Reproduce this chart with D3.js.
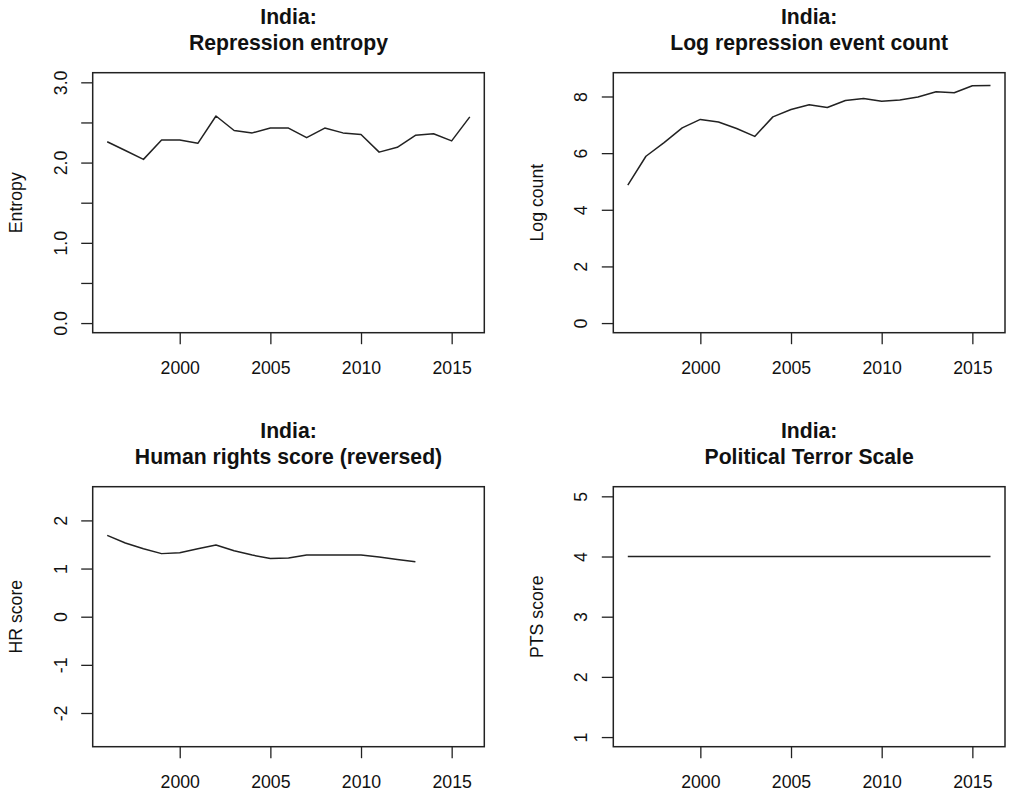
<!DOCTYPE html>
<html>
<head>
<meta charset="utf-8">
<script src="https://cdn.jsdelivr.net/npm/d3@7"></script>
<style>
  html, body { margin: 0; padding: 0; background: #fff; }
  svg { display: block; }
  text { font-family: "Liberation Sans", Arial, Helvetica, sans-serif; fill: #111; }
</style>
</head>
<body>
<svg id="chart" width="1009" height="799"></svg>
<script>
// ---------- data ----------
const country = "India";

const years = [1996,1997,1998,1999,2000,2001,2002,2003,2004,2005,2006,2007,2008,2009,2010,2011,2012,2013,2014,2015,2016];

const entropyValues = [2.26,2.15,2.04,2.28,2.28,2.24,2.58,2.40,2.37,2.43,2.43,2.31,2.43,2.37,2.35,2.13,2.19,2.34,2.36,2.27,2.57];

const logCountValues = [4.87,5.89,6.37,6.89,7.19,7.10,6.87,6.59,7.28,7.54,7.71,7.61,7.86,7.93,7.83,7.88,7.98,8.17,8.13,8.38,8.39];

const hrYears = [1996,1997,1998,1999,2000,2001,2002,2003,2004,2005,2006,2007,2008,2009,2010,2011,2012,2013];
const hrValues = [1.69,1.53,1.41,1.31,1.33,1.41,1.49,1.37,1.28,1.21,1.22,1.28,1.28,1.28,1.28,1.24,1.19,1.14];

const ptsValues = [4,4,4,4,4,4,4,4,4,4,4,4,4,4,4,4,4,4,4,4,4];

const xLimits = [1996, 2016];
const xTicks = [2000, 2005, 2010, 2015];

const entropyLimits = [0, 3];
const entropyTicks = [0, 0.5, 1, 1.5, 2, 2.5, 3];
const entropyTickLabels = ["0.0", "", "1.0", "", "2.0", "", "3.0"];

const logCountLimits = [0, 8.5];
const logCountTicks = [0, 2, 4, 6, 8];
const logCountTickLabels = ["0", "2", "4", "6", "8"];

const hrLimits = [-2.5, 2.5];
const hrTicks = [-2, -1, 0, 1, 2];
const hrTickLabels = ["-2", "-1", "0", "1", "2"];

const ptsLimits = [1, 5];
const ptsTicks = [1, 2, 3, 4, 5];
const ptsTickLabels = ["1", "2", "3", "4", "5"];

const panelTitles = ["Repression entropy", "Log repression event count", "Human rights score (reversed)", "Political Terror Scale"];
const yLabels = ["Entropy", "Log count", "HR score", "PTS score"];

// ---------- layout ----------
const colLeft = [92.7, 613.3];
const colRight = [484.3, 1005];
const rowTop = [72.7, 486.7];
const rowBottom = [332.7, 746.7];

const panels = [
  { col: 0, row: 0, title: panelTitles[0], ylab: yLabels[0], xs: years, ys: entropyValues, lim: entropyLimits, ticks: entropyTicks, labels: entropyTickLabels },
  { col: 1, row: 0, title: panelTitles[1], ylab: yLabels[1], xs: years, ys: logCountValues, lim: logCountLimits, ticks: logCountTicks, labels: logCountTickLabels },
  { col: 0, row: 1, title: panelTitles[2], ylab: yLabels[2], xs: hrYears, ys: hrValues, lim: hrLimits, ticks: hrTicks, labels: hrTickLabels },
  { col: 1, row: 1, title: panelTitles[3], ylab: yLabels[3], xs: years, ys: ptsValues, lim: ptsLimits, ticks: ptsTicks, labels: ptsTickLabels }
];

const svg = d3.select("#chart");
const ink = "#222";
const axisFont = 17.7;
const titleFont = 21.2;
const tickLen = 11.5;

function padded(lim) {
  const d = (lim[1] - lim[0]) * 0.04;
  return [lim[0] - d, lim[1] + d];
}

panels.forEach(p => {
  const L = colLeft[p.col], R = colRight[p.col], T = rowTop[p.row], B = rowBottom[p.row];
  const x = d3.scaleLinear().domain(padded(xLimits)).range([L, R]);
  const y = d3.scaleLinear().domain(padded(p.lim)).range([B, T]);
  const g = svg.append("g");

  // box
  g.append("rect")
    .attr("x", L).attr("y", T).attr("width", R - L).attr("height", B - T)
    .attr("fill", "none").attr("stroke", ink).attr("stroke-width", 1.5);

  // x axis
  const xAxis = d3.axisBottom(x).tickValues(xTicks).tickSize(tickLen).tickSizeOuter(0).tickFormat(d3.format("d"));
  const gx = g.append("g").attr("transform", `translate(0,${B})`).call(xAxis);
  gx.select(".domain").remove();
  gx.selectAll(".tick line").attr("stroke", ink).attr("stroke-width", 1.3);
  gx.selectAll(".tick text")
    .attr("y", 41.5).attr("dy", null)
    .attr("font-size", axisFont)
    .attr("font-family", "'Liberation Sans', Arial, Helvetica, sans-serif")
    .attr("fill", "#111");

  // y axis
  const yAxis = d3.axisLeft(y).tickValues(p.ticks).tickSize(tickLen).tickSizeOuter(0)
    .tickFormat((d, i) => p.labels[i]);
  const gy = g.append("g").attr("transform", `translate(${L},0)`).call(yAxis);
  gy.select(".domain").remove();
  gy.selectAll(".tick line").attr("stroke", ink).attr("stroke-width", 1.3);
  gy.selectAll(".tick text")
    .attr("x", null).attr("dy", null)
    .attr("transform", "translate(-26,0) rotate(-90)")
    .attr("text-anchor", "middle")
    .attr("font-size", axisFont)
    .attr("font-family", "'Liberation Sans', Arial, Helvetica, sans-serif")
    .attr("fill", "#111");

  // y label
  g.append("text")
    .attr("transform", `translate(${L - 70.5},${(T + B) / 2}) rotate(-90)`)
    .attr("text-anchor", "middle")
    .attr("font-size", axisFont)
    .text(p.ylab);

  // titles
  const cx = (L + R) / 2;
  g.append("text").attr("x", cx).attr("y", T - 48.7)
    .attr("text-anchor", "middle").attr("font-size", titleFont).attr("font-weight", "bold")
    .text(country + ":");
  g.append("text").attr("x", cx).attr("y", T - 22.7)
    .attr("text-anchor", "middle").attr("font-size", titleFont).attr("font-weight", "bold")
    .text(p.title);

  // data line
  const line = d3.line().x((d, i) => x(p.xs[i])).y(d => y(d));
  g.append("path")
    .datum(p.ys)
    .attr("d", line)
    .attr("fill", "none")
    .attr("stroke", ink)
    .attr("stroke-width", 1.5)
    .attr("stroke-linejoin", "round");
});
</script>
</body>
</html>
